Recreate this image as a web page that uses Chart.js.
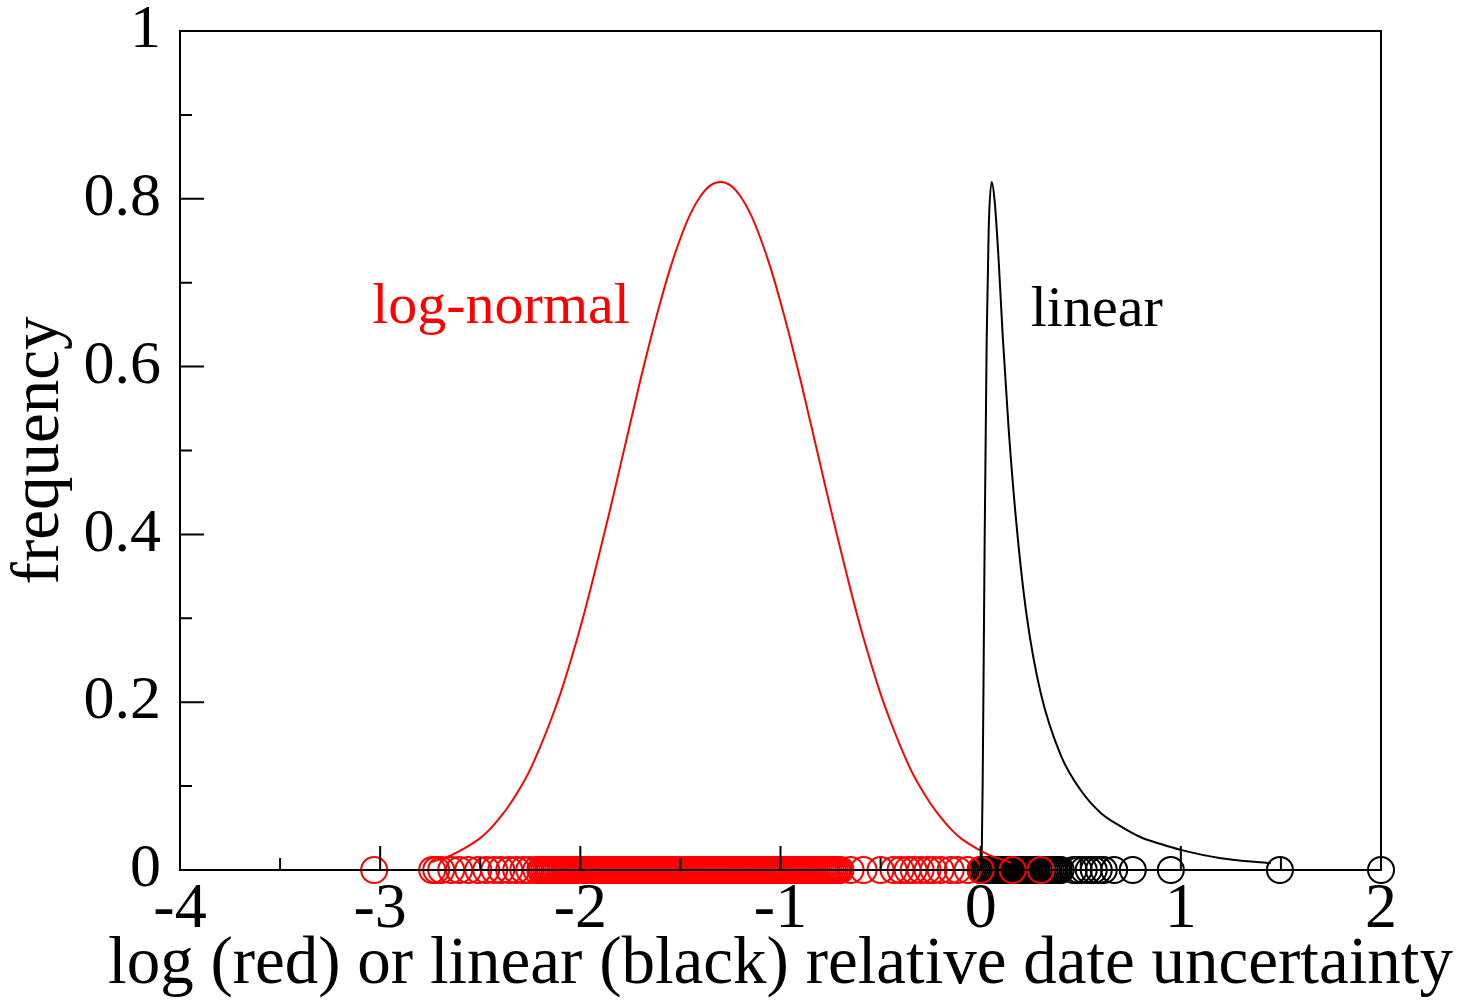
<!DOCTYPE html>
<html>
<head>
<meta charset="utf-8">
<script src="https://cdn.jsdelivr.net/npm/chart.js@4.4.1/dist/chart.umd.min.js"></script>
<style>
  html, body { margin: 0; padding: 0; background: #fff; }
  canvas { display: block; }
</style>
</head>
<body>
<canvas id="chart" width="1472" height="1003"></canvas>
<script>
// log-normal fit (red), x = log10 of relative uncertainty
const redCurveX = [-2.75, -2.70, -2.65, -2.60, -2.55, -2.50, -2.45, -2.40, -2.35, -2.30,
    -2.25, -2.20, -2.15, -2.10, -2.05, -2.00, -1.95, -1.90, -1.85, -1.80,
    -1.75, -1.70, -1.65, -1.60, -1.55, -1.50, -1.45, -1.40, -1.35, -1.30,
    -1.25, -1.20, -1.15, -1.10, -1.05, -1.00, -0.95, -0.90, -0.85, -0.80,
    -0.75, -0.70, -0.65, -0.60, -0.55, -0.50, -0.45, -0.40, -0.35, -0.30,
    -0.25, -0.20, -0.15, -0.10, -0.05, 0.00, 0.05, 0.10, 0.15];
const redCurveY = [0.009, 0.013, 0.017, 0.023, 0.030, 0.038, 0.049, 0.063, 0.079, 0.098,
    0.120, 0.147, 0.177, 0.210, 0.248, 0.289, 0.334, 0.382, 0.431, 0.482,
    0.533, 0.584, 0.632, 0.677, 0.718, 0.753, 0.782, 0.803, 0.816, 0.820,
    0.816, 0.803, 0.782, 0.753, 0.718, 0.677, 0.632, 0.584, 0.533, 0.482,
    0.431, 0.382, 0.334, 0.289, 0.248, 0.210, 0.177, 0.147, 0.120, 0.098,
    0.079, 0.063, 0.049, 0.038, 0.030, 0.023, 0.017, 0.013, 0.009];

// linear fit (black)
const blackCurveX = [0.0, 0.005, 0.01, 0.015, 0.02, 0.03, 0.04, 0.055, 0.07, 0.09, 0.11, 0.14,
    0.18, 0.23, 0.3, 0.4, 0.5, 0.6, 0.7, 0.8, 0.9, 1.0, 1.2, 1.45];
const blackCurveY = [0, 0.013, 0.103, 0.246, 0.395, 0.631, 0.763, 0.82, 0.797, 0.726, 0.637, 0.525,
    0.409, 0.303, 0.211, 0.137, 0.095, 0.068, 0.052, 0.039, 0.031, 0.024, 0.014, 0.008];

// individual samples, all plotted at frequency 0
const redSamples = [-3.03, -2.74, -2.72, -2.695, -2.645, -2.605, -2.56, -2.51, -2.47, -2.43,
    -2.395, -2.355, -2.32, -2.285, -2.255, -2.22,
    -2.20, -2.19, -2.18, -2.17, -2.16, -2.15, -2.14, -2.13, -2.12, -2.11,
    -2.10, -2.09, -2.08, -2.07, -2.06, -2.05, -2.04, -2.03, -2.02, -2.01,
    -2.00, -1.99, -1.98, -1.97, -1.96, -1.95, -1.94, -1.93, -1.92, -1.91,
    -1.90, -1.89, -1.88, -1.87, -1.86, -1.85, -1.84, -1.83, -1.82, -1.81,
    -1.80, -1.79, -1.78, -1.77, -1.76, -1.75, -1.74, -1.73, -1.72, -1.71,
    -1.70, -1.69, -1.68, -1.67, -1.66, -1.65, -1.64, -1.63, -1.62, -1.61,
    -1.60, -1.59, -1.58, -1.57, -1.56, -1.55, -1.54, -1.53, -1.52, -1.51,
    -1.50, -1.49, -1.48, -1.47, -1.46, -1.45, -1.44, -1.43, -1.42, -1.41,
    -1.40, -1.39, -1.38, -1.37, -1.36, -1.35, -1.34, -1.33, -1.32, -1.31,
    -1.30, -1.29, -1.28, -1.27, -1.26, -1.25, -1.24, -1.23, -1.22, -1.21,
    -1.20, -1.19, -1.18, -1.17, -1.16, -1.15, -1.14, -1.13, -1.12, -1.11,
    -1.10, -1.09, -1.08, -1.07, -1.06, -1.05, -1.04, -1.03, -1.02, -1.01,
    -1.00, -0.99, -0.98, -0.97, -0.96, -0.95, -0.94, -0.93, -0.92, -0.91,
    -0.90, -0.89, -0.88, -0.87, -0.86, -0.85, -0.84, -0.83, -0.82, -0.81,
    -0.80, -0.79, -0.78, -0.77, -0.76, -0.75, -0.74, -0.73, -0.72, -0.71,
    -0.70, -0.65, -0.585, -0.50, -0.435, -0.40, -0.365, -0.335, -0.30, -0.265,
    -0.235, -0.20, -0.15, -0.115, -0.065, 0.0, 0.16, 0.30];
const blackSamples = [0.00, 0.005, 0.01, 0.015, 0.02, 0.03, 0.04, 0.05, 0.06, 0.07,
    0.08, 0.09, 0.10, 0.11, 0.12, 0.13, 0.14, 0.15, 0.16, 0.17,
    0.18, 0.19, 0.20, 0.21, 0.22, 0.23, 0.24, 0.25, 0.26, 0.27,
    0.28, 0.29, 0.30, 0.31, 0.32, 0.33, 0.34, 0.35, 0.36, 0.37,
    0.38, 0.39, 0.40, 0.465, 0.49, 0.515, 0.54, 0.565, 0.59, 0.615,
    0.667, 0.76, 0.95, 1.495, 2.0];

// text labels in data coordinates (left edge, baseline)
const curveLabels = [
    { text: "log-normal", x: -3.04, y: 0.652, color: "#ff0000" },
    { text: "linear", x: 0.25, y: 0.648, color: "#000000" }
];
const xTitle = 'log (red) or linear (black) relative date uncertainty';

const serif = "'Liberation Serif', 'Times New Roman', serif";

function toPoints(xs, ys) {
    return xs.map((x, i) => ({ x: x, y: ys ? ys[i] : 0 }));
}

// frame, inward ticks, x title and curve labels
const xmgrFrame = {
    id: 'xmgrFrame',
    afterDatasetsDraw(chart) {
        const ctx = chart.ctx;
        const area = chart.chartArea;
        const xs = chart.scales.x;
        const ys = chart.scales.y;
        ctx.save();
        ctx.strokeStyle = '#000';
        ctx.lineWidth = 2;
        ctx.strokeRect(area.left, area.top, area.right - area.left, area.bottom - area.top);

        ctx.beginPath();
        const xt = xs.ticks.map(t => t.value);
        xt.forEach((v, i) => {
            const px = xs.getPixelForValue(v);
            ctx.moveTo(px, area.bottom);
            ctx.lineTo(px, area.bottom - 24);
            if (i < xt.length - 1) {
                const mx = xs.getPixelForValue((v + xt[i + 1]) / 2);
                ctx.moveTo(mx, area.bottom);
                ctx.lineTo(mx, area.bottom - 12);
            }
        });
        const yt = ys.ticks.map(t => t.value);
        yt.forEach((v, i) => {
            const py = ys.getPixelForValue(v);
            ctx.moveTo(area.left, py);
            ctx.lineTo(area.left + 24, py);
            if (i < yt.length - 1) {
                const my = ys.getPixelForValue((v + yt[i + 1]) / 2);
                ctx.moveTo(area.left, my);
                ctx.lineTo(area.left + 12, my);
            }
        });
        ctx.stroke();

        ctx.font = '58px ' + serif;
        ctx.textBaseline = 'alphabetic';
        ctx.textAlign = 'left';
        curveLabels.forEach(l => {
            ctx.fillStyle = l.color;
            ctx.fillText(l.text, xs.getPixelForValue(l.x), ys.getPixelForValue(l.y));
        });

        // x title drawn here so it is not squeezed to the axis width
        ctx.font = '67px ' + serif;
        ctx.textAlign = 'center';
        ctx.fillStyle = '#000';
        ctx.fillText(xTitle, (area.left + area.right) / 2, chart.height - 20);
        ctx.restore();
    }
};

const ctx = document.getElementById('chart').getContext('2d');
new Chart(ctx, {
    type: 'scatter',
    data: {
        datasets: [
            {
                label: 'log-normal',
                data: toPoints(redCurveX, redCurveY),
                showLine: true,
                cubicInterpolationMode: 'monotone',
                borderColor: '#ff0000',
                borderWidth: 2,
                pointRadius: 0,
                order: 0
            },
            {
                label: 'linear',
                data: toPoints(blackCurveX, blackCurveY),
                showLine: true,
                cubicInterpolationMode: 'monotone',
                borderColor: '#000000',
                borderWidth: 2,
                pointRadius: 0,
                order: 1
            },
            {
                label: 'log samples',
                data: toPoints(redSamples),
                borderColor: '#ff0000',
                backgroundColor: 'rgba(0,0,0,0)',
                borderWidth: 2,
                pointRadius: 13,
                clip: false,
                order: 2
            },
            {
                label: 'linear samples',
                data: toPoints(blackSamples),
                borderColor: '#000000',
                backgroundColor: 'rgba(0,0,0,0)',
                borderWidth: 2,
                pointRadius: 13,
                clip: false,
                order: 3
            }
        ]
    },
    options: {
        responsive: false,
        animation: false,
        layout: { padding: { left: 0, right: 91, top: 31, bottom: 0 } },
        plugins: {
            legend: { display: false },
            tooltip: { enabled: false }
        },
        scales: {
            x: {
                type: 'linear',
                min: -4,
                max: 2,
                ticks: {
                    stepSize: 1,
                    color: '#000',
                    padding: 2,
                    maxRotation: 0,
                    font: { family: serif, size: 64 }
                },
                grid: { display: false, drawTicks: false },
                border: { display: false },
                title: { display: false },
                afterFit: scale => {
                    scale.height = 133;
                    scale.paddingLeft = 0;
                    scale.paddingRight = 0;
                }
            },
            y: {
                min: 0,
                max: 1,
                ticks: {
                    stepSize: 0.2,
                    color: '#000',
                    padding: 19,
                    font: { family: serif, size: 62 },
                    callback: v => String(Math.round(v * 10) / 10)
                },
                grid: { display: false, drawTicks: false },
                border: { display: false },
                title: {
                    display: true,
                    text: 'frequency',
                    color: '#000',
                    padding: 0,
                    font: { family: serif, size: 67 }
                },
                afterFit: scale => {
                    scale.width = 180;
                    scale.paddingTop = 0;
                    scale.paddingBottom = 0;
                }
            }
        }
    },
    plugins: [xmgrFrame]
});
</script>
</body>
</html>
